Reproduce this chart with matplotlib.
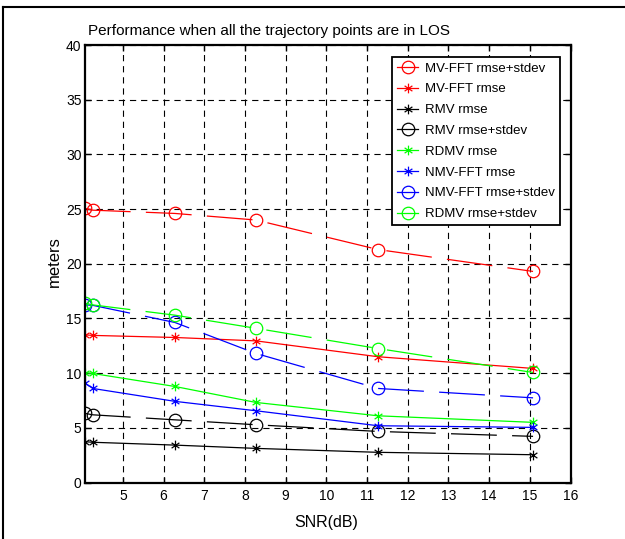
import matplotlib
matplotlib.use('Agg')
import matplotlib.pyplot as plt
from matplotlib.path import Path
from matplotlib.lines import Line2D

plt.rcParams['font.family'] = ['Liberation Sans', 'DejaVu Sans']
plt.rcParams['lines.scale_dashes'] = False

# SNR values (dB)
snr = [4.07, 4.26, 6.28, 8.27, 11.27, 15.08]

# errors in meters
mvfft_rs = [25.07, 24.9, 24.6, 24.0, 21.3, 19.3]
mvfft_r = [13.5, 13.45, 13.26, 12.95, 11.5, 10.43]
rmv_r = [3.73, 3.68, 3.42, 3.12, 2.76, 2.54]
rmv_rs = [6.32, 6.19, 5.73, 5.28, 4.67, 4.22]
rdmv_r = [10.03, 9.97, 8.78, 7.32, 6.1, 5.5]
nmvfft_r = [9.09, 8.6, 7.42, 6.56, 5.19, 5.04]
nmvfft_rs = [16.24, 16.2, 14.63, 11.8, 8.6, 7.74]
rdmv_rs = [16.39, 16.24, 15.3, 14.1, 12.25, 10.06]

labels = ['MV-FFT rmse+stdev', 'MV-FFT rmse', 'RMV rmse', 'RMV rmse+stdev',
          'RDMV rmse', 'NMV-FFT rmse', 'NMV-FFT rmse+stdev', 'RDMV rmse+stdev']

# matlab-like asterisk marker
star = Path([(0, -1), (0, 1), (-0.8, -0.55), (0.8, 0.55), (-0.8, 0.55), (0.8, -0.55)],
            [Path.MOVETO, Path.LINETO, Path.MOVETO, Path.LINETO, Path.MOVETO, Path.LINETO])

series = [
    (mvfft_rs, 'red', 'o', True),
    (mvfft_r, 'red', star, False),
    (rmv_r, 'black', star, False),
    (rmv_rs, 'black', 'o', True),
    (rdmv_r, '#00ff00', star, False),
    (nmvfft_r, 'blue', star, False),
    (nmvfft_rs, 'blue', 'o', True),
    (rdmv_rs, '#00ff00', 'o', True),
]

fig = plt.figure(figsize=(6.25, 5.39), dpi=100)
ax = fig.add_axes([0.136, 0.1048, 0.7768, 0.8117])

handles = []
for (y, c, m, dashed), lab in zip(series, labels):
    ms = 9 if m == 'o' else 7
    ln, = ax.plot(snr, y, color=c, marker=m, markersize=ms, markerfacecolor='none',
                  markeredgecolor=c, markeredgewidth=0.9, linewidth=0.9, label=lab)
    if dashed:
        ln.set_dashes((33, 11))
    handles.append(Line2D([0], [0], color=c, marker=m, markersize=ms, markerfacecolor='none',
                          markeredgecolor=c, markeredgewidth=0.9, linewidth=0.9))

ax.set_xlim(snr[0], 16)
ax.set_ylim(0, 40)
ax.set_xticks(range(5, 17))
ax.set_yticks(range(0, 41, 5))
ax.grid(True, color='black', linestyle=(0, (4.5, 3.5)), linewidth=0.8)
ax.tick_params(direction='in', top=True, right=True, length=4, width=1, labelsize=10, pad=2.5)
ax.tick_params(axis='x', pad=5)
for s in ax.spines.values():
    s.set_linewidth(1.6)

leg = ax.legend(handles, labels, loc='upper left', bbox_to_anchor=(392 / 625, 1 - 57 / 539),
                bbox_transform=fig.transFigure, fontsize=9.5, fancybox=False, framealpha=1,
                edgecolor='black', handlelength=1.6, handletextpad=0.5, labelspacing=0.65,
                borderpad=0.4, borderaxespad=0)
leg.get_frame().set_linewidth(1.3)

fig.text(88 / 625, 1 - 31 / 539, 'Performance when all the trajectory points are in LOS',
         fontsize=11, va='center', ha='left')
fig.text(326 / 625, 1 - 523 / 539, 'SNR(dB)', fontsize=11.5, ha='center', va='center')
fig.text(54 / 625, 1 - 262 / 539, 'meters', fontsize=12, ha='center', va='center', rotation=90)

# outer frame
fig.add_artist(Line2D([3 / 625, 3 / 625], [0, 1 - 7 / 539], color='black', linewidth=1.5,
                      transform=fig.transFigure))
fig.add_artist(Line2D([3 / 625, 1], [1 - 7 / 539, 1 - 7 / 539], color='black', linewidth=1.5,
                      transform=fig.transFigure))

fig.savefig('out.png', dpi=100)
